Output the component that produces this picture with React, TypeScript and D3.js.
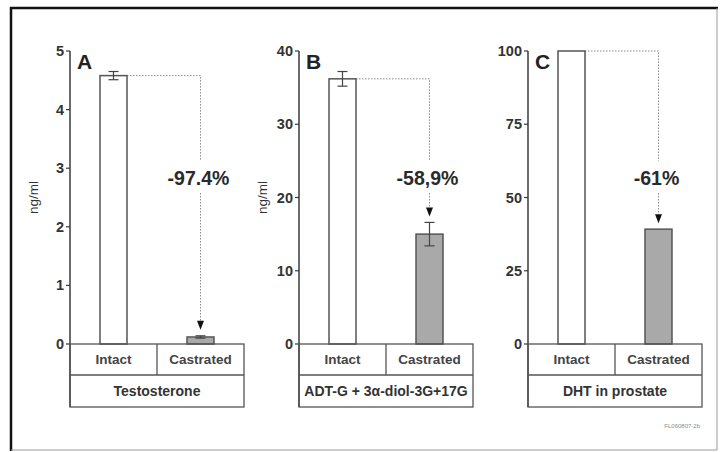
import * as d3 from "d3";

const categories = ["Intact", "Castrated"];
const panelLetters = ["A", "B", "C"];
const groupLabels = ["Testosterone", "ADT-G + 3\u03b1-diol-3G+17G", "DHT in prostate"];
const changeLabels = ["-97.4%", "-58,9%", "-61%"];
const yMaxes = [5, 40, 100];
const yTicks = [
  [0, 1, 2, 3, 4, 5],
  [0, 10, 20, 30, 40],
  [0, 25, 50, 75, 100],
];
const yLabels = ["ng/ml", "ng/ml", ""];
const values = [
  [4.58, 0.12],
  [36.2, 15.0],
  [100, 39.2],
];
const errors = [
  [0.07, 0.02],
  [1.0, 1.6],
  [0, 0],
];

const panelLeft = [70, 299, 528];
const panelW = 174;
const yTop = 51;
const yBase = 344;
const row1 = 375;
const row2 = 407;
const barW = 27;
const font = "'Liberation Sans', Arial, sans-serif";
const ink = "#3a3a3a";

function Panel({ i }: { i: number }) {
  const x0 = panelLeft[i];
  const x = d3.scaleBand().domain(categories).range([x0, x0 + panelW]).padding(0);
  const y = d3.scaleLinear().domain([0, yMaxes[i]]).range([yBase, yTop]);
  const cx = (c: string) => (x(c) as number) + x.bandwidth() / 2;

  const intactTop = y(values[i][0]);
  const castX = cx(categories[1]);
  const castTop = y(values[i][1] + errors[i][1]);
  const arrowTip = castTop - 6;
  const labelY = 185;

  return (
    <g>
      {/* y axis */}
      <line x1={x0} x2={x0} y1={yTop} y2={row2} stroke={ink} strokeWidth={1.5} />
      {yTicks[i].map((t) => (
        <g key={t}>
          <line x1={x0 - 4} x2={x0} y1={y(t)} y2={y(t)} stroke={ink} strokeWidth={1.2} />
          <text
            x={x0 - 6}
            y={y(t)}
            dy="0.35em"
            textAnchor="end"
            fontSize={14.5}
            fontWeight="bold"
            fill="#333"
            fontFamily={font}
          >
            {t}
          </text>
        </g>
      ))}
      {yLabels[i] && (
        <text
          transform={`translate(${x0 - 32},${(yTop + yBase) / 2}) rotate(-90)`}
          textAnchor="middle"
          fontSize={13.5}
          fill="#333"
          fontFamily={font}
        >
          {yLabels[i]}
        </text>
      )}
      <text x={x0 + 7} y={yTop + 18} fontSize={21} fontWeight="bold" fill="#222" fontFamily={font}>
        {panelLetters[i]}
      </text>

      {/* dotted connector */}
      <path
        d={`M${cx(categories[0]) + barW / 2},${intactTop}H${castX}V${labelY - 24}`}
        fill="none"
        stroke="#8a8a8a"
        strokeWidth={1}
        strokeDasharray="1.5,1.5"
      />
      <path
        d={`M${castX},${labelY + 8}V${arrowTip - 8}`}
        fill="none"
        stroke="#8a8a8a"
        strokeWidth={1}
        strokeDasharray="1.5,1.5"
      />
      <path
        d={`M${castX - 3.5},${arrowTip - 9}L${castX + 3.5},${arrowTip - 9}L${castX},${arrowTip}Z`}
        fill="#111"
      />
      <text
        x={castX - 2}
        y={labelY}
        textAnchor="middle"
        fontSize={19.5}
        fontWeight="bold"
        fill="#2a2a2a"
        fontFamily={font}
      >
        {changeLabels[i]}
      </text>

      {/* bars */}
      {categories.map((c, j) => (
        <g key={c}>
          <rect
            x={cx(c) - barW / 2}
            y={y(values[i][j])}
            width={barW}
            height={yBase - y(values[i][j])}
            fill={j === 0 ? "#fff" : "#a9a9a9"}
            stroke="#555"
            strokeWidth={1.5}
          />
          {errors[i][j] > 0 && (
            <g stroke="#444" strokeWidth={1.2}>
              <line
                x1={cx(c)}
                x2={cx(c)}
                y1={y(values[i][j] + errors[i][j])}
                y2={y(values[i][j] - errors[i][j])}
              />
              <line
                x1={cx(c) - 5}
                x2={cx(c) + 5}
                y1={y(values[i][j] + errors[i][j])}
                y2={y(values[i][j] + errors[i][j])}
              />
              <line
                x1={cx(c) - 5}
                x2={cx(c) + 5}
                y1={y(values[i][j] - errors[i][j])}
                y2={y(values[i][j] - errors[i][j])}
              />
            </g>
          )}
        </g>
      ))}

      {/* category table */}
      <g fill="none" stroke="#555" strokeWidth={1.3}>
        <rect x={x0} y={yBase} width={panelW} height={row2 - yBase} />
        <line x1={x0} x2={x0 + panelW} y1={row1} y2={row1} />
        <line x1={x(categories[1])} x2={x(categories[1])} y1={yBase} y2={row1} />
      </g>
      {categories.map((c) => (
        <text
          key={c}
          x={cx(c)}
          y={(yBase + row1) / 2}
          dy="0.35em"
          textAnchor="middle"
          fontSize={13.5}
          fontWeight="bold"
          fill="#444"
          fontFamily={font}
        >
          {c}
        </text>
      ))}
      <text
        x={x0 + panelW / 2}
        y={(row1 + row2) / 2}
        dy="0.35em"
        textAnchor="middle"
        fontSize={14}
        fontWeight="bold"
        fill="#333"
        fontFamily={font}
      >
        {groupLabels[i]}
      </text>
    </g>
  );
}

export default function App() {
  return (
    <svg
      width={720}
      height={452}
      style={{ position: "absolute", left: 0, top: 0, background: "#fff" }}
    >
      <rect x={0} y={0} width={720} height={452} fill="#fff" />
      <path d="M11,451V8H718" fill="none" stroke="#111" strokeWidth={2.5} />
      <path d="M11,450H717V8" fill="none" stroke="#999" strokeWidth={1} />
      {panelLetters.map((_, i) => (
        <Panel key={i} i={i} />
      ))}
      <text x={700} y={428} textAnchor="end" fontSize={6} fill="#888" fontFamily={font}>
        FL060807-2b
      </text>
    </svg>
  );
}
